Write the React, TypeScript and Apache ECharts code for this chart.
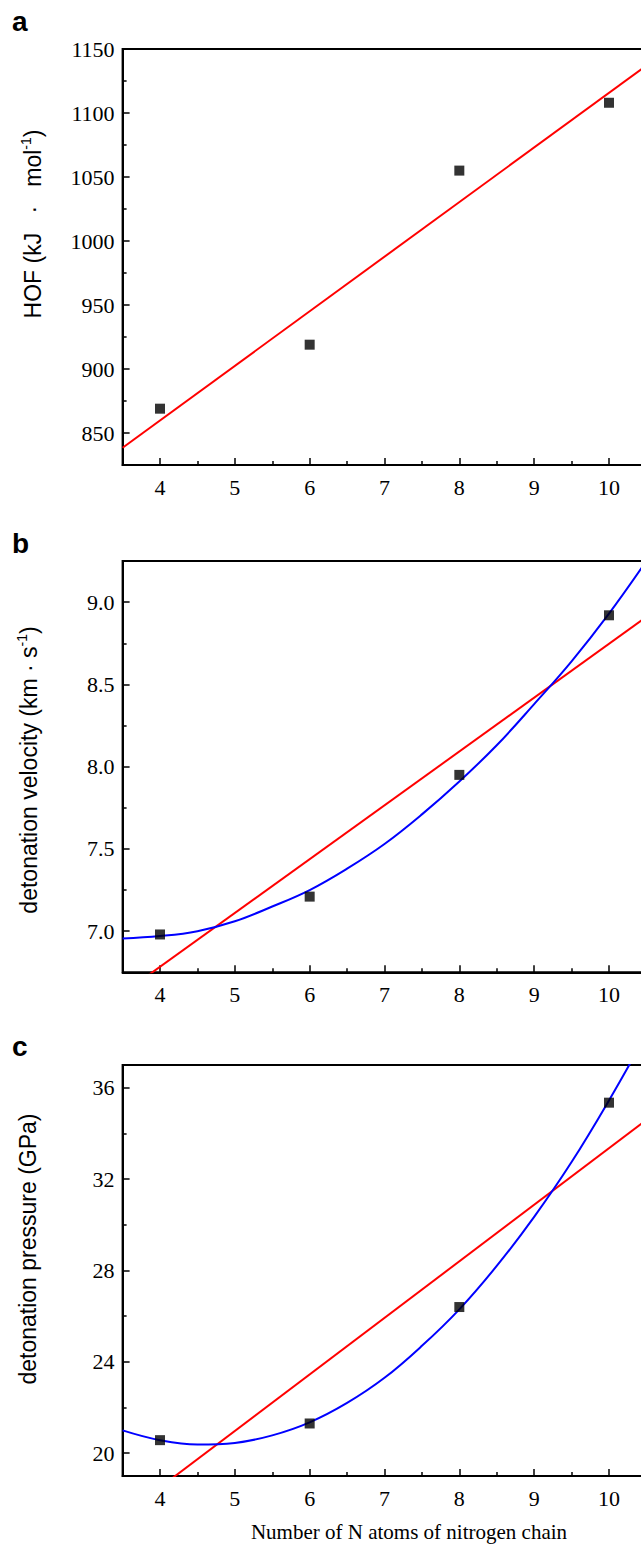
import React, { useEffect, useRef } from "react";
import * as echarts from "echarts";

// ---- data ----
const nAtoms = [4, 6, 8, 10];
const hofValues = [869, 919, 1055, 1108];
const velocityValues = [6.98, 7.21, 7.95, 8.92];
const pressureValues = [20.57, 21.3, 26.4, 35.35];

const fitX = [3.5, 10.5];
const hofLinearFit = [838.5, 1137];
const velocityLinearFit = [6.62, 8.91];
const pressureLinearFit = [17.26, 34.59];

const curveX = [3.5, 4, 4.5, 5, 5.5, 6, 6.5, 7, 7.5, 8, 8.5, 9, 9.5, 10, 10.5];
const velocityCurve = [6.955, 6.97, 7.0, 7.06, 7.15, 7.25, 7.38, 7.53, 7.71, 7.91, 8.13, 8.38, 8.64, 8.93, 9.25];
const pressureCurve = [21.0, 20.57, 20.38, 20.45, 20.78, 21.35, 22.2, 23.3, 24.7, 26.3, 28.2, 30.35, 32.75, 35.45, 38.35];

// ---- ticks ----
const xTickLabels = [4, 5, 6, 7, 8, 9, 10];
const xMinorTicks = [4.5, 5.5, 6.5, 7.5, 8.5, 9.5, 10.5];
const hofTickLabels = [850, 900, 950, 1000, 1050, 1100, 1150];
const hofMinorTicks = [875, 925, 975, 1025, 1075, 1125];
const velocityTickLabels = [7.0, 7.5, 8.0, 8.5, 9.0];
const velocityMinorTicks = [7.25, 7.75, 8.25, 8.75];
const pressureTickLabels = [20, 24, 28, 32, 36];
const pressureMinorTicks = [22, 26, 30, 34];

const panelLetters = ["a", "b", "c"];
const xTitle = "Number of N atoms of nitrogen chain";

const serif = '"Liberation Serif", "Times New Roman", serif';
const sans = '"Liberation Sans", Arial, sans-serif';

const GRID_LEFT = 122.6;
const GRID_WIDTH = 523.8;
const grids = [
  { top: 49, height: 416 },
  { top: 561, height: 411.3 },
  { top: 1065, height: 411 },
];
const yRanges = [
  [825, 1150],
  [6.75, 9.25],
  [19, 37],
];

function pairs(xs: number[], ys: number[]) {
  return xs.map((x, i) => [x, ys[i]]);
}

export default function App() {
  const ref = useRef<HTMLDivElement>(null);

  useEffect(() => {
    if (!ref.current) return;
    const chart = echarts.init(ref.current, null, { renderer: "svg" });
    const line = { color: "#000", width: 2 };
    const tickLine = { color: "#000", width: 1.5 };

    const xAxis: any[] = [];
    const yAxis: any[] = [];
    const yMajor = [hofTickLabels, velocityTickLabels, pressureTickLabels];
    const yMinor = [hofMinorTicks, velocityMinorTicks, pressureMinorTicks];
    const yFmt = [
      (v: number) => String(Math.round(v)),
      (v: number) => v.toFixed(1),
      (v: number) => String(Math.round(v)),
    ];

    grids.forEach((_, gi) => {
      xAxis.push({
        type: "value",
        gridIndex: gi,
        min: 3.5,
        max: 10.5,
        position: "bottom",
        axisLine: { show: true, onZero: false, lineStyle: line },
        axisTick: { show: true, inside: true, length: 7, lineStyle: tickLine, customValues: xTickLabels },
        axisLabel: {
          show: true,
          customValues: xTickLabels,
          margin: 11,
          color: "#000",
          fontFamily: serif,
          fontSize: 22,
        },
        splitLine: { show: false },
      });
      xAxis.push({
        type: "value",
        gridIndex: gi,
        min: 3.5,
        max: 10.5,
        position: "bottom",
        axisLine: { show: false, onZero: false },
        axisTick: { show: true, inside: true, length: 4, lineStyle: tickLine, customValues: xMinorTicks },
        axisLabel: { show: false },
        splitLine: { show: false },
      });
      yAxis.push({
        type: "value",
        gridIndex: gi,
        min: yRanges[gi][0],
        max: yRanges[gi][1],
        position: "left",
        axisLine: { show: true, onZero: false, lineStyle: line },
        axisTick: { show: true, inside: true, length: 7, lineStyle: tickLine, customValues: yMajor[gi] },
        axisLabel: {
          show: true,
          customValues: yMajor[gi],
          formatter: yFmt[gi],
          margin: 8,
          color: "#000",
          fontFamily: serif,
          fontSize: 22,
        },
        splitLine: { show: false },
      });
      yAxis.push({
        type: "value",
        gridIndex: gi,
        min: yRanges[gi][0],
        max: yRanges[gi][1],
        position: "left",
        axisLine: { show: false, onZero: false },
        axisTick: { show: true, inside: true, length: 4, lineStyle: tickLine, customValues: yMinor[gi] },
        axisLabel: { show: false },
        splitLine: { show: false },
      });
    });

    const values = [hofValues, velocityValues, pressureValues];
    const fits = [hofLinearFit, velocityLinearFit, pressureLinearFit];
    const curves: (number[] | null)[] = [null, velocityCurve, pressureCurve];
    const series: any[] = [];
    grids.forEach((_, gi) => {
      const ax = { xAxisIndex: gi * 2, yAxisIndex: gi * 2 };
      series.push({
        type: "line",
        ...ax,
        data: pairs(fitX, fits[gi]),
        showSymbol: false,
        symbol: "none",
        clip: true,
        lineStyle: { color: "#ff0000", width: 2 },
        z: 3,
      });
      const c = curves[gi];
      if (c) {
        series.push({
          type: "line",
          ...ax,
          data: pairs(curveX, c),
          smooth: 0.4,
          showSymbol: false,
          symbol: "none",
          clip: true,
          lineStyle: { color: "#0000ff", width: 2 },
          z: 3,
        });
      }
      series.push({
        type: "scatter",
        ...ax,
        data: pairs(nAtoms, values[gi]),
        symbol: "rect",
        symbolSize: 10,
        itemStyle: { color: "#000" },
        z: 5,
      });
    });

    const titleRich = {
      n: { fontFamily: sans, fontSize: 23, color: "#000", lineHeight: 28, verticalAlign: "middle" },
      s: { fontFamily: sans, fontSize: 14, color: "#000", lineHeight: 28, verticalAlign: "top" },
    };
    const yTitles = [
      { text: "{n|HOF (kJ   ·   mol}{s|-1}{n|)}", x: 33, y: 224 },
      { text: "{n|detonation velocity (km · s}{s|-1}{n|)}", x: 29, y: 770 },
      { text: "{n|detonation pressure (GPa)}", x: 28, y: 1249 },
    ];
    const letterPos = [
      { x: 12, y: 35 },
      { x: 12, y: 557 },
      { x: 12, y: 1060 },
    ];

    const graphic: any[] = [];
    panelLetters.forEach((l, i) => {
      graphic.push({
        type: "text",
        x: letterPos[i].x,
        y: letterPos[i].y,
        style: {
          text: l,
          font: `bold 28px ${sans}`,
          fill: "#000",
          verticalAlign: "bottom",
          align: "left",
        },
      });
    });
    yTitles.forEach((t) => {
      graphic.push({
        type: "text",
        x: t.x,
        y: t.y,
        rotation: Math.PI / 2,
        style: {
          text: t.text,
          rich: titleRich,
          align: "center",
          verticalAlign: "middle",
          fill: "#000",
        },
      });
    });
    graphic.push({
      type: "text",
      x: 409,
      y: 1532,
      style: {
        text: xTitle,
        font: `21px ${serif}`,
        fill: "#000",
        align: "center",
        verticalAlign: "middle",
      },
    });

    chart.setOption({
      animation: false,
      backgroundColor: "#fff",
      grid: grids.map((g) => ({
        left: GRID_LEFT,
        width: GRID_WIDTH,
        top: g.top,
        height: g.height,
        show: true,
        borderColor: "#000",
        borderWidth: 2,
        backgroundColor: "transparent",
        containLabel: false,
      })),
      xAxis,
      yAxis,
      series,
      graphic,
    });
    return () => chart.dispose();
  }, []);

  return (
    <div
      style={{
        position: "absolute",
        left: 0,
        top: 0,
        width: 641,
        height: 1549,
        overflow: "hidden",
        background: "#fff",
      }}
    >
      <div ref={ref} style={{ width: 660, height: 1549 }} />
    </div>
  );
}
